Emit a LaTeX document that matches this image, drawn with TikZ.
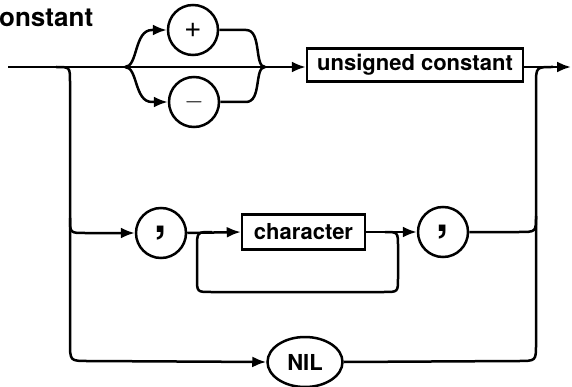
\documentclass[tikz,border=0pt]{standalone}
\usepackage{fontspec}
\setmainfont{TeX Gyre Heros}
\usetikzlibrary{arrows.meta,shapes.geometric}

\tikzset{
  term/.style={draw,circle,line width=2.5pt,minimum size=50pt,inner sep=0pt},
  nonterm/.style={draw,rectangle,line width=2.5pt,inner sep=0pt,font=\fontsize{22}{24}\selectfont\bfseries},
  flow/.style={line width=2.5pt},
  into/.style={-{Latex[length=14pt,width=11pt]}}
}

\begin{document}
\begin{tikzpicture}[x=1pt,y=-1pt]
\useasboundingbox (0,0) rectangle (572,387);

\node[anchor=base west,inner sep=0pt,font=\fontsize{26}{30}\selectfont\bfseries] (title) at (-1,27) {onstant};

% sign branch
\node[term,font=\fontsize{30}{32}\selectfont] (plus) at (193,30) {+};
\node[term,font=\fontsize{30}{32}\selectfont] (minus) at (194,102) {$-$};
\node[nonterm,minimum width=216pt,minimum height=33pt] (ucon) at (415,65) {unsigned constant};

% string branch
\node[term,font=\fontsize{44}{46}\selectfont\bfseries] (comma1) at (161,233) {\raisebox{-3pt}{,}};
\node[nonterm,minimum width=123pt,minimum height=35pt] (char) at (303.5,232) {character};
\node[term,font=\fontsize{44}{46}\selectfont\bfseries] (comma2) at (443,232) {\raisebox{-3pt}{,}};

% nil branch
\node[draw,ellipse,line width=2.5pt,minimum width=75pt,minimum height=50pt,inner sep=0pt,font=\fontsize{22}{24}\selectfont\bfseries] (nil) at (305,362) {NIL};

\coordinate (start) at (8,67);
\coordinate (exit) at (571,67);
\coordinate (sl) at (125,67);
\coordinate (sr) at (265,67);

% main line
\draw[flow,into] (start) -- (start -| ucon.west);
\draw[flow,into] (ucon.east |- exit) -- (exit);

% plus and minus
\draw[flow,into] (sl) .. controls (138,67) and (134,30) .. (152,30) -- (plus.west);
\draw[flow] (plus.east) -- (246,30) .. controls (262,30) and (254,67) .. (sr);
\draw[flow,into] (sl) .. controls (138,67) and (134,102) .. (152,102) -- (minus.west);
\draw[flow] (minus.east) -- (246,102) .. controls (262,102) and (254,67) .. (sr);

% left side
\draw[flow,into] (56,67) .. controls (70,67) .. (70,82) -- (70,342) .. controls (70,361) .. (88,361) -- (nil.west);
\draw[flow,into] (70,218) .. controls (70,233) .. (85,233) -- (comma1.west);

% character string with loop
\draw[flow,into] (comma1.east) -- (char.west);
\draw[flow,into] (char.east) -- (comma2.west);
\draw[flow] (385,232) .. controls (398,232) .. (398,247) -- (398,278) .. controls (398,292) .. (384,292)
  -- (211,292) .. controls (197,292) .. (197,278) -- (197,248) .. controls (197,232) .. (212,232);

% right side
\draw[flow] (nil.east) -- (518,361) .. controls (536,361) .. (536,344) -- (536,85) .. controls (536,67) .. (553,67);
\draw[flow] (comma2.east) -- (519,232) .. controls (536,232) .. (536,216);
\end{tikzpicture}
\end{document}
